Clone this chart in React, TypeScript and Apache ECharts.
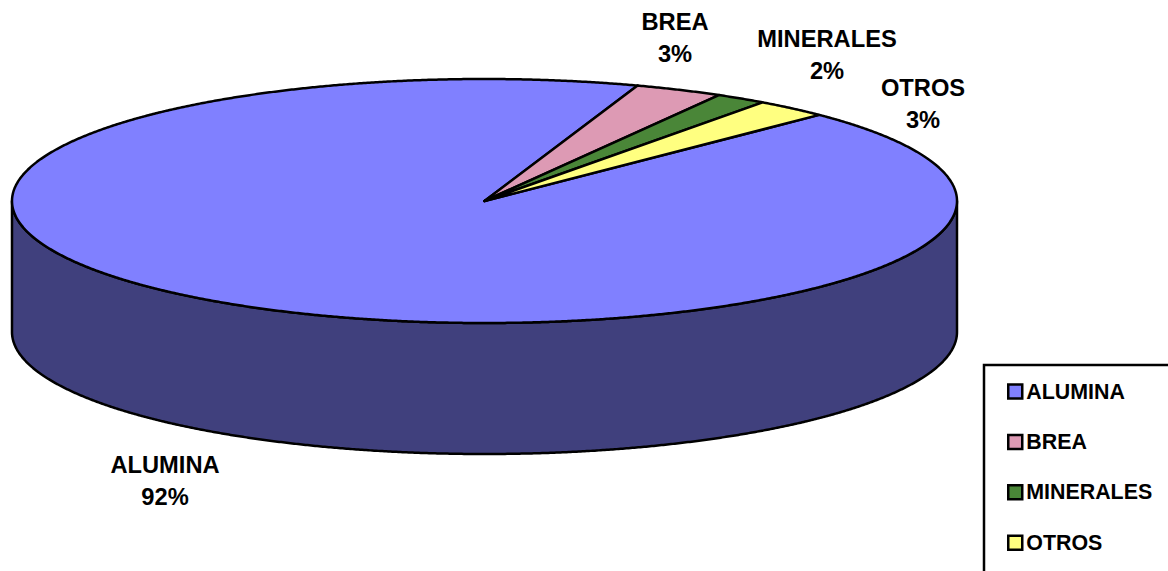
import React, { useEffect, useRef } from "react";
import * as echarts from "echarts";

const categories = ["ALUMINA", "BREA", "MINERALES", "OTROS"];
const values = [92.4, 3.0, 1.75, 2.5];
const topColors = ["#8080ff", "#dd9ab4", "#4a8638", "#ffff80"];
const wallColors = ["#40407d", "#6e4d5a", "#25431c", "#808040"];

const FONT = '"Liberation Sans", Arial, sans-serif';
const FIRST_ANGLE = 45.1; // degrees clockwise from the back of the pie
const DEPTH = 131 / 122; // wall height, in units of the vertical radius
const labelAnchors: number[][] = [
  [165, 481],
  [675, 38],
  [827, 55],
  [923, 104],
];

const total = values.reduce((a, b) => a + b, 0);
const spans = values.map((v) => (v / total) * 360);
const starts = spans.map((_, i) => FIRST_ANGLE + spans.slice(0, i).reduce((a, b) => a + b, 0));

function arc(from: number, to: number, dy: number): number[][] {
  const pts: number[][] = [];
  const n = Math.max(2, Math.ceil((to - from) / 0.25));
  for (let k = 0; k <= n; k++) {
    const t = ((from + ((to - from) * k) / n) * Math.PI) / 180;
    pts.push([Math.sin(t), Math.cos(t) - dy]);
  }
  return pts;
}

function renderSlice(params: any, api: any) {
  const i = params.seriesIndex;
  const a = starts[i];
  const b = a + spans[i];
  const children: any[] = [];
  const from = Math.max(a, 90);
  const to = Math.min(b, 270);
  if (to > from) {
    const wall = [...arc(from, to, 0), ...arc(from, to, DEPTH).reverse()].map((p) => api.coord(p));
    children.push({
      type: "polygon",
      shape: { points: wall },
      style: { fill: wallColors[i], stroke: "#000", lineWidth: 2.5, lineJoin: "round" },
    });
  }
  const top = [[0, 0], ...arc(a, b, 0)].map((p) => api.coord(p));
  children.push({
    type: "polygon",
    shape: { points: top },
    style: { fill: topColors[i], stroke: "#000", lineWidth: 2.5, lineJoin: "round" },
  });
  children.push({
    type: "text",
    x: labelAnchors[i][0],
    y: labelAnchors[i][1],
    style: {
      text: `${categories[i]}\n${Math.round(api.value(2))}%`,
      fontFamily: FONT,
      fontWeight: "bold",
      fontSize: 23.7,
      lineHeight: 32,
      fill: "#000",
      align: "center",
      verticalAlign: "middle",
    },
  });
  return { type: "group", children };
}

export default function App() {
  const ref = useRef<HTMLDivElement>(null);
  useEffect(() => {
    document.body.style.margin = "0";
    const chart = echarts.init(ref.current!, null, { renderer: "svg" });
    chart.setOption({
      animation: false,
      backgroundColor: "#fff",
      grid: { left: 12, top: 79, width: 945, height: 375 },
      xAxis: { type: "value", min: -1, max: 1, show: false },
      yAxis: { type: "value", min: -1 - DEPTH, max: 1, show: false },
      legend: {
        orient: "vertical",
        left: 1002,
        top: 376,
        itemWidth: 14,
        itemHeight: 14,
        itemGap: 29.4,
        padding: 5,
        data: categories,
        selectedMode: false,
        icon: "path://M0,0H10V10H0Z",
        itemStyle: { borderColor: "#000", borderWidth: 2.5 },
        textStyle: { fontFamily: FONT, fontWeight: "bold", fontSize: 21.4, color: "#000", padding: [0, 0, 0, -1] },
      },
      graphic: [
        {
          type: "rect",
          z: -1,
          shape: { x: 984, y: 365, width: 190, height: 212 },
          style: { fill: "#fff", stroke: "#000", lineWidth: 2.5 },
        },
      ],
      series: categories.map((name, i) => ({
        type: "custom",
        name,
        coordinateSystem: "cartesian2d",
        itemStyle: { color: topColors[i] },
        data: [{ value: [0, 0, values[i]] }],
        renderItem: renderSlice,
        silent: true,
      })),
    });
    return () => chart.dispose();
  }, []);
  return <div ref={ref} style={{ position: "fixed", left: 0, top: 0, width: 1168, height: 571 }} />;
}
